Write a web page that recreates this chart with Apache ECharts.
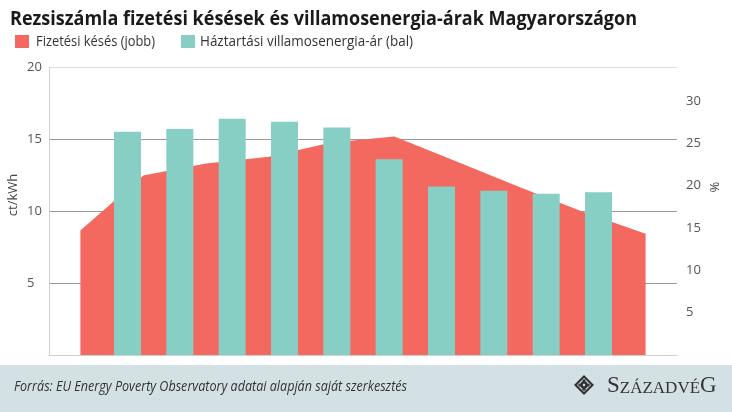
<!DOCTYPE html>
<html><head><meta charset="utf-8">
<script src="https://cdn.jsdelivr.net/npm/echarts@6/dist/echarts.min.js"></script>
<style>html,body{margin:0;padding:0;background:#fff}#c{width:732px;height:412px}</style>
</head><body><div id="c"></div>
<script>
const titleText = 'Rezsiszámla fizetési késések és villamosenergia-árak Magyarországon';
const sourceText = 'Forrás: EU Energy Poverty Observatory adatai alapján saját szerkesztés';
const arrearsName = 'Fizetési késés (jobb)';
const priceName = 'Háztartási villamosenergia-ár (bal)';
const leftAxisName = 'ct/kWh';
const rightAxisName = '%';
// bar categories (12 slots, first and last empty)
const priceCategories = ['', 'P1', 'P2', 'P3', 'P4', 'P5', 'P6', 'P7', 'P8', 'P9', 'P10', ''];
const priceValues = [null, 15.5, 15.7, 16.4, 16.2, 15.8, 13.6, 11.7, 11.4, 11.2, 11.3, null];
// area categories
const arrearsCategories = ['A1', 'A2', 'A3', 'A4', 'A5', 'A6', 'A7', 'A8', 'A9', 'A10'];
const arrearsValues = [14.7, 21.2, 22.6, 23.4, 25.1, 25.8, 22.8, 19.8, 16.9, 14.3];
const leftAxisRange = [0, 20, 5];
const rightAxisRange = [0, 34, 5];

const RED = '#f4695f', TEAL = '#87cec4';
const ctx = document.createElement('canvas').getContext('2d');
function fit(text, font, target) { ctx.font = font; return target / ctx.measureText(text).width; }

const chart = echarts.init(document.getElementById('c'), null, {renderer: 'canvas'});
const titleFont = 'bold 20px "Open Sans"';
const legFont = '14px "Open Sans"';
const srcFont = 'italic 14px "Open Sans"';

chart.setOption({
  animation: false,
  grid: {left: 49, right: 55, top: 67, bottom: 57},
  xAxis: [
    {type: 'category', data: priceCategories, boundaryGap: true,
     axisLine: {show: true, lineStyle: {color: '#d0d0d0', width: 1}},
     axisTick: {show: false}, axisLabel: {show: false}, splitLine: {show: false}},
    {type: 'category', data: arrearsCategories, boundaryGap: true, show: false}
  ],
  yAxis: [
    {type: 'value', min: leftAxisRange[0], max: leftAxisRange[1], interval: leftAxisRange[2], position: 'left',
     axisLine: {show: true, lineStyle: {color: '#d0d0d0'}}, axisTick: {show: false},
     axisLabel: {showMinLabel: false, align: 'left', margin: 22, color: '#555', fontSize: 13, fontFamily: 'Open Sans'},
     splitLine: {show: true, lineStyle: {color: ['#d9d9d9', '#9a9a9a', '#9a9a9a', '#9a9a9a', '#dedede'], width: 1}}},
    {type: 'value', min: rightAxisRange[0], max: rightAxisRange[1], interval: rightAxisRange[2], position: 'right',
     axisLine: {show: false}, axisTick: {show: false}, splitLine: {show: false},
     axisLabel: {showMinLabel: false, showMaxLabel: false, align: 'left', margin: 9, color: '#555', fontSize: 13, fontFamily: 'Open Sans'}}
  ],
  series: [
    {name: arrearsName, type: 'line', xAxisIndex: 1, yAxisIndex: 1, data: arrearsValues,
     symbol: 'none', lineStyle: {width: 0, color: RED}, itemStyle: {color: RED},
     areaStyle: {color: RED, opacity: 1}, z: 1},
    {name: priceName, type: 'bar', xAxisIndex: 0, yAxisIndex: 0, data: priceValues,
     barWidth: 27, itemStyle: {color: TEAL}, z: 3}
  ],
  graphic: [
    {type: 'text', x: 10, y: 19, scaleX: fit(titleText, titleFont, 627),
     style: {text: titleText, fontSize: 20, fontWeight: 'bold', fontFamily: 'Open Sans', fill: '#1a1a1a', align: 'left', verticalAlign: 'middle'}},
    {type: 'rect', shape: {x: 15, y: 35, width: 14, height: 13}, style: {fill: RED}},
    {type: 'text', x: 36, y: 42, scaleX: fit(arrearsName, legFont, 119),
     style: {text: arrearsName, fontSize: 14, fontFamily: 'Open Sans', fill: '#333', align: 'left', verticalAlign: 'middle'}},
    {type: 'rect', shape: {x: 181, y: 35, width: 14, height: 13}, style: {fill: TEAL}},
    {type: 'text', x: 200, y: 42, scaleX: fit(priceName, legFont, 213),
     style: {text: priceName, fontSize: 14, fontFamily: 'Open Sans', fill: '#333', align: 'left', verticalAlign: 'middle'}},
    {type: 'text', x: 13, y: 195, rotation: Math.PI / 2,
     style: {text: leftAxisName, fontSize: 13, fontFamily: 'Open Sans', fill: '#444', align: 'center', verticalAlign: 'middle'}},
    {type: 'text', x: 714, y: 187, rotation: -Math.PI / 2,
     style: {text: rightAxisName, fontSize: 13, fontFamily: 'Open Sans', fill: '#444', align: 'center', verticalAlign: 'middle'}},
    {type: 'rect', shape: {x: 0, y: 365, width: 732, height: 47}, style: {fill: '#d4e1e4'}},
    {type: 'text', x: 14, y: 387, scaleX: fit(sourceText, srcFont, 393),
     style: {text: sourceText, fontSize: 14, fontStyle: 'italic', fontFamily: 'Open Sans', fill: '#333', align: 'left', verticalAlign: 'middle'}},
    {type: 'group', x: 584, y: 385, children: [
      {type: 'polygon', shape: {points: [[0, -10], [10, 0], [0, 10], [-10, 0]]}, style: {fill: '#333'}},
      {type: 'polygon', shape: {points: [[0, -7], [7, 0], [0, 7], [-7, 0]]}, style: {fill: '#d4e1e4'}},
      {type: 'circle', shape: {cx: 0, cy: 0, r: 3.8}, style: {fill: '#333'}},
      {type: 'circle', shape: {cx: 0, cy: -4.2, r: 1.6}, style: {fill: '#333'}},
      {type: 'circle', shape: {cx: 0, cy: 4.2, r: 1.6}, style: {fill: '#333'}},
      {type: 'circle', shape: {cx: -4.2, cy: 0, r: 1.6}, style: {fill: '#333'}},
      {type: 'circle', shape: {cx: 4.2, cy: 0, r: 1.6}, style: {fill: '#333'}},
      {type: 'circle', shape: {cx: 0, cy: 0, r: 1.2}, style: {fill: '#d4e1e4'}}
    ]},
    {type: 'text', x: 607, y: 386,
     style: {text: '{b|S}{s|ZÁZADVÉ}{b|G}', fill: '#333', align: 'left', verticalAlign: 'middle',
       rich: {b: {fontSize: 23, fontFamily: 'Liberation Serif', fill: '#333', verticalAlign: 'bottom'},
              s: {fontSize: 17, fontFamily: 'Liberation Serif', fill: '#333', verticalAlign: 'bottom'}}}}
  ]
});
</script></body></html>
